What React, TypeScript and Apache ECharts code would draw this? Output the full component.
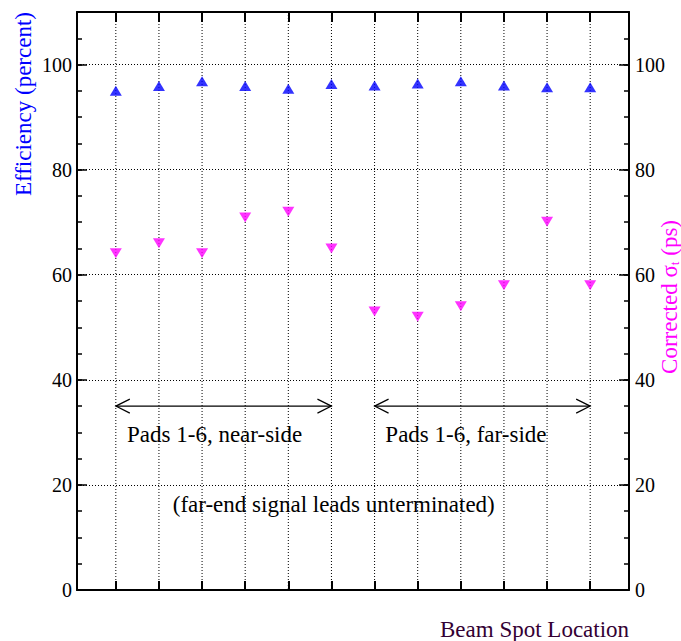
import React, { useEffect, useRef } from 'react';
import * as echarts from 'echarts';

const beamSpots = [1, 2, 3, 4, 5, 6, 7, 8, 9, 10, 11, 12];
const efficiency = [95.0, 95.9, 96.8, 95.9, 95.4, 96.3, 96.0, 96.4, 96.8, 96.0, 95.7, 95.7];
const sigmaT = [64.1, 66.0, 64.1, 70.9, 72.0, 65.0, 53.0, 52.0, 54.0, 58.0, 70.1, 58.0];
const yMajorTicks = [0, 20, 40, 60, 80, 100];
const arrowSpans = [
  [1, 6, 35],
  [7, 12, 35],
];
const noteTexts = ['Pads 1-6, near-side', 'Pads 1-6, far-side', '(far-end signal leads unterminated)'];
const noteAnchors = [
  [1.26, 29.6],
  [7.25, 29.6],
  [2.32, 16.3],
];

const SERIF = '"Liberation Serif", "Times New Roman", serif';

export default function App() {
  const ref = useRef<HTMLDivElement>(null);
  useEffect(() => {
    if (!ref.current) return;
    const chart = echarts.init(ref.current, null, { renderer: 'svg' });
    const xMin = 0.1;
    const xMax = 12.9;
    const dotted = { type: [1, 2] as any, color: '#000', width: 1 };
    const yBase = {
      type: 'value',
      min: 0,
      max: 110,
      splitLine: { show: false },
    };
    const option: any = {
      animation: false,
      backgroundColor: '#fff',
      textStyle: { fontFamily: SERIF },
      grid: { left: 77, right: 52, top: 12, bottom: 51, containLabel: false, show: false },
      xAxis: [
        {
          type: 'value',
          position: 'bottom',
          min: xMin,
          max: xMax,
          axisLine: { show: true, onZero: false, lineStyle: { color: '#000', width: 2 } },
          axisTick: { show: true, inside: true, length: 9, customValues: beamSpots, lineStyle: { color: '#000', width: 2 } },
          axisLabel: { show: false },
          splitLine: { show: false },
        },
        {
          type: 'value',
          position: 'top',
          min: xMin,
          max: xMax,
          axisLine: { show: true, onZero: false, lineStyle: { color: '#000', width: 2 } },
          axisTick: { show: true, inside: true, length: 10, customValues: beamSpots, lineStyle: { color: '#000', width: 2 } },
          axisLabel: { show: false },
          splitLine: { show: false },
        },
      ],
      yAxis: [
        {
          ...yBase,
          position: 'left',
          interval: 20,
          axisLine: { show: true, onZero: false, lineStyle: { color: '#000', width: 2 } },
          axisTick: { show: true, inside: true, length: 10, lineStyle: { color: '#000', width: 1.5 } },
          axisLabel: {
            show: true,
            color: '#000',
            fontSize: 20,
            fontFamily: SERIF,
            margin: 5,
            formatter: (v: number) => (yMajorTicks.includes(v) ? String(v) : ''),
          },
          splitLine: { show: true, lineStyle: dotted },
        },
        {
          ...yBase,
          position: 'left',
          interval: 5,
          axisLine: { show: false },
          axisTick: { show: true, inside: true, length: 5, lineStyle: { color: '#000', width: 1.5 } },
          axisLabel: { show: false },
        },
        {
          ...yBase,
          position: 'right',
          interval: 20,
          axisLine: { show: true, onZero: false, lineStyle: { color: '#000', width: 2 } },
          axisTick: { show: true, inside: true, length: 10, lineStyle: { color: '#000', width: 1.5 } },
          axisLabel: {
            show: true,
            color: '#000',
            fontSize: 20,
            fontFamily: SERIF,
            margin: 6,
            formatter: (v: number) => (yMajorTicks.includes(v) ? String(v) : ''),
          },
        },
        {
          ...yBase,
          position: 'right',
          interval: 5,
          axisLine: { show: false },
          axisTick: { show: true, inside: true, length: 5, lineStyle: { color: '#000', width: 1.5 } },
          axisLabel: { show: false },
        },
      ],
      series: [
        {
          type: 'custom',
          name: 'xgrid',
          xAxisIndex: 0,
          yAxisIndex: 0,
          silent: true,
          z: 1,
          data: beamSpots.map((x) => [x]),
          renderItem: (params: any, api: any) => {
            const cs = params.coordSys;
            const px = api.coord([api.value(0), 0])[0];
            return {
              type: 'line',
              shape: { x1: px, y1: cs.y, x2: px, y2: cs.y + cs.height },
              style: { stroke: '#000', lineWidth: 1, lineDash: [1, 2] },
            };
          },
        },
        {
          type: 'custom',
          name: 'arrows',
          xAxisIndex: 0,
          yAxisIndex: 0,
          silent: true,
          z: 2,
          data: arrowSpans,
          renderItem: (params: any, api: any) => {
            const p1 = api.coord([api.value(0), api.value(2)]);
            const p2 = api.coord([api.value(1), api.value(2)]);
            const hx = 14;
            const hy = 7;
            const st = { stroke: '#000', lineWidth: 1.2, fill: 'none' };
            return {
              type: 'group',
              children: [
                { type: 'line', shape: { x1: p1[0], y1: p1[1], x2: p2[0], y2: p2[1] }, style: st },
                {
                  type: 'polyline',
                  shape: { points: [[p1[0] + hx, p1[1] - hy], [p1[0], p1[1]], [p1[0] + hx, p1[1] + hy]] },
                  style: st,
                },
                {
                  type: 'polyline',
                  shape: { points: [[p2[0] - hx, p2[1] - hy], [p2[0], p2[1]], [p2[0] - hx, p2[1] + hy]] },
                  style: st,
                },
              ],
            };
          },
        },
        {
          type: 'custom',
          name: 'notes',
          xAxisIndex: 0,
          yAxisIndex: 0,
          silent: true,
          z: 2,
          data: noteAnchors.map((a, i) => [a[0], a[1], i]),
          renderItem: (params: any, api: any) => {
            const p = api.coord([api.value(0), api.value(1)]);
            return {
              type: 'text',
              x: p[0],
              y: p[1],
              style: {
                text: noteTexts[api.value(2)],
                fill: '#000',
                fontSize: 23,
                fontFamily: SERIF,
                align: 'left',
                verticalAlign: 'middle',
              },
            };
          },
        },
        {
          type: 'scatter',
          name: 'Efficiency',
          xAxisIndex: 0,
          yAxisIndex: 0,
          z: 5,
          symbol: 'triangle',
          symbolSize: [12, 10],
          itemStyle: { color: '#0000ff' },
          data: beamSpots.map((x, i) => [x, efficiency[i]]),
        },
        {
          type: 'scatter',
          name: 'Corrected sigma_t',
          xAxisIndex: 0,
          yAxisIndex: 2,
          z: 5,
          symbol: 'triangle',
          symbolRotate: 180,
          symbolSize: [12, 10],
          itemStyle: { color: '#ff00ff' },
          data: beamSpots.map((x, i) => [x, sigmaT[i]]),
        },
      ],
      graphic: [
        {
          type: 'text',
          x: 23,
          y: 12,
          rotation: Math.PI / 2,
          style: {
            text: 'Efficiency (percent)',
            fill: '#0000ff',
            font: '23px ' + SERIF,
            align: 'right',
            textAlign: 'right',
            verticalAlign: 'middle',
            textVerticalAlign: 'middle',
          },
        },
        {
          type: 'text',
          x: 669,
          y: 220,
          rotation: Math.PI / 2,
          style: {
            text: '{m|Corrected σ}{t|t}{m| (ps)}',
            fill: '#ff00ff',
            fontSize: 23,
            fontFamily: SERIF,
            align: 'right',
            textAlign: 'right',
            verticalAlign: 'middle',
            textVerticalAlign: 'middle',
            rich: {
              m: { fontSize: 23, fontFamily: SERIF, fill: '#ff00ff', lineHeight: 24 },
              t: { fontSize: 13, fontFamily: SERIF, fill: '#ff00ff', verticalAlign: 'bottom', lineHeight: 24 },
            },
          },
        },
        {
          type: 'text',
          x: 440,
          y: 629,
          style: {
            text: 'Beam Spot Location',
            fill: '#330033',
            font: '23px ' + SERIF,
            align: 'left',
            textAlign: 'left',
            verticalAlign: 'middle',
            textVerticalAlign: 'middle',
          },
        },
      ],
    };
    chart.setOption(option);
    return () => chart.dispose();
  }, []);
  return (
    <div
      ref={ref}
      style={{ position: 'fixed', left: 0, top: 0, width: 681, height: 641, background: '#fff' }}
    />
  );
}
